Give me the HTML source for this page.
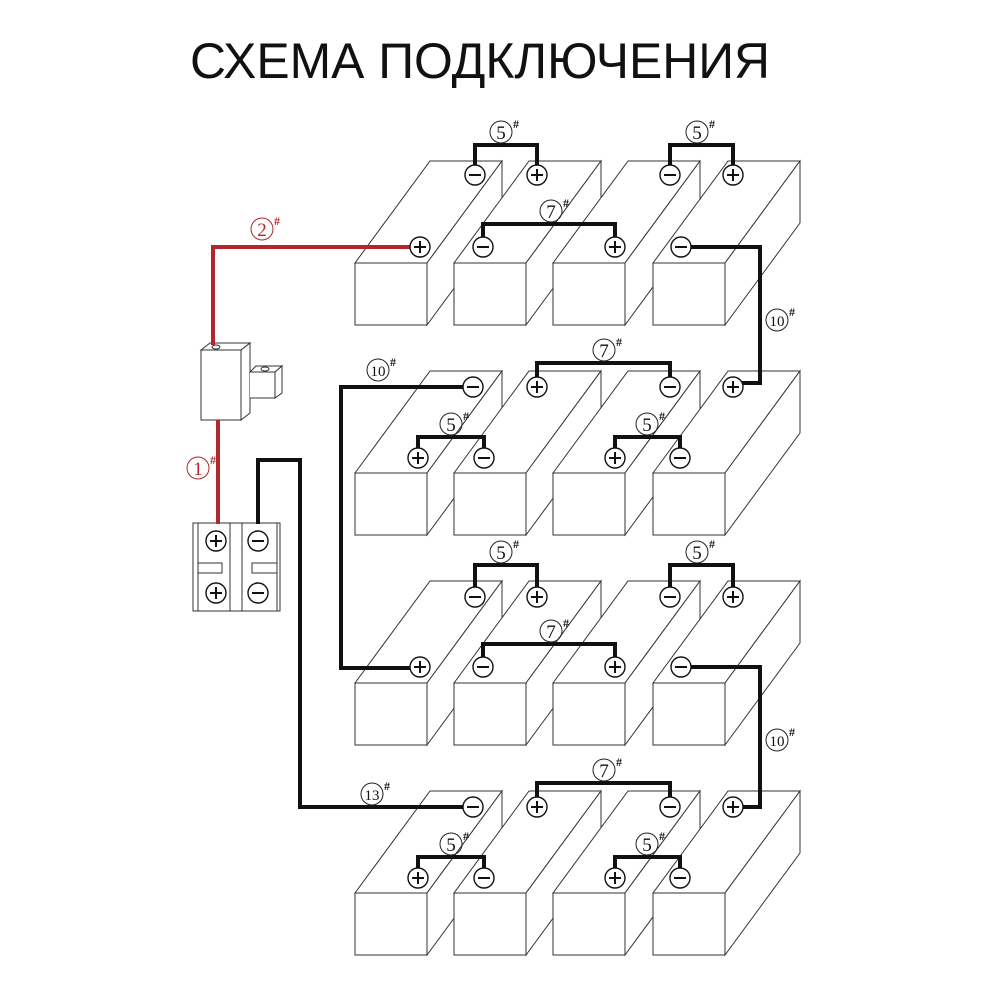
<!DOCTYPE html>
<html><head><meta charset="utf-8"><style>
html,body{margin:0;padding:0;background:#fff;}
svg{display:block;}
text{font-family:"Liberation Serif",serif;}
</style></head><body>
<svg width="1000" height="1000" viewBox="0 0 1000 1000" xmlns="http://www.w3.org/2000/svg">
<defs>
<g id="bat" fill="#fff" stroke="#333" stroke-width="1">
<polygon points="0,0 75,-102 147,-102 72,0"/>
<polygon points="72,0 147,-102 147,-40 72,62"/>
<rect x="0" y="0" width="72" height="62"/>
</g>
<g id="tp"><circle r="10" fill="#fff" stroke="#111" stroke-width="1.4"/><path d="M-6 0H6M0 -6V6" stroke="#111" stroke-width="2"/></g>
<g id="tm"><circle r="10" fill="#fff" stroke="#111" stroke-width="1.4"/><path d="M-6 0H6" stroke="#111" stroke-width="2"/></g>
</defs>

<text x="480" y="78" style="font-family:'Liberation Sans',sans-serif" font-size="50" text-anchor="middle" textLength="580" lengthAdjust="spacingAndGlyphs" fill="#111">СХЕМА ПОДКЛЮЧЕНИЯ</text>

<use href="#bat" x="355" y="263"/><use href="#bat" x="454" y="263"/><use href="#bat" x="553" y="263"/><use href="#bat" x="653" y="263"/>
<use href="#bat" x="355" y="473"/><use href="#bat" x="454" y="473"/><use href="#bat" x="553" y="473"/><use href="#bat" x="653" y="473"/>
<use href="#bat" x="355" y="683"/><use href="#bat" x="454" y="683"/><use href="#bat" x="553" y="683"/><use href="#bat" x="653" y="683"/>
<use href="#bat" x="355" y="893"/><use href="#bat" x="454" y="893"/><use href="#bat" x="553" y="893"/><use href="#bat" x="653" y="893"/>

<!-- fuse -->
<g fill="#fff" stroke="#333" stroke-width="1">
<polygon points="201,350 210,343 250,343 241,350"/>
<polygon points="241,350 250,343 250,413 241,420"/>
<rect x="201" y="350" width="40" height="70"/>
<polygon points="250,372 256,366 282,366 275,372"/>
<polygon points="275,372 282,366 282,393 275,398"/>
<rect x="250" y="372" width="25" height="26" stroke="none"/>
<path d="M250 372H275V398H250" fill="none"/>
<ellipse cx="216" cy="347" rx="4" ry="2"/>
<ellipse cx="265" cy="369" rx="4" ry="2"/>
</g>

<g fill="none" stroke="#333" stroke-width="1">
<rect x="193" y="523" width="87" height="88" fill="#fff"/>
<path d="M198 523V611M230 523V611M242 523V611M277 523V611"/>
<path d="M198 563H222V573H198M277 563H252V573H277"/>
</g>
<use href="#tp" x="216" y="541"/><use href="#tp" x="216" y="593"/>
<use href="#tm" x="258" y="541"/><use href="#tm" x="258" y="593"/>

<g fill="none" stroke="#b3262b" stroke-width="4">
<path d="M411 247H213V345"/>
<path d="M218 420V524"/>
</g>

<g fill="none" stroke="#111" stroke-width="4">
<path d="M475 167V145H537V167"/>
<path d="M670 167V145H733V167"/>
<path d="M483 239V224H615V239"/>
<path d="M690 247H760V383H742"/>
<path d="M537 379V363H670V379"/>
<path d="M418 450V437H484V450"/>
<path d="M615 450V437H680V450"/>
<path d="M464 387H341V668H411"/>
<path d="M475 587V565H537V587"/>
<path d="M670 587V565H733V587"/>
<path d="M483 659V644H615V659"/>
<path d="M690 667H760V807H742"/>
<path d="M537 799V783H670V799"/>
<path d="M418 870V857H484V870"/>
<path d="M615 870V857H680V870"/>
<path d="M464 807H300V460H258V524"/>
</g>

<use href="#tp" x="420" y="247"/><use href="#tm" x="475" y="175"/><use href="#tp" x="537" y="175"/><use href="#tm" x="483" y="247"/><use href="#tp" x="615" y="247"/><use href="#tm" x="670" y="175"/><use href="#tp" x="733" y="175"/><use href="#tm" x="681" y="247"/>
<use href="#tm" x="473" y="387"/><use href="#tp" x="537" y="387"/><use href="#tm" x="670" y="387"/><use href="#tp" x="733" y="387"/><use href="#tp" x="418" y="458"/><use href="#tm" x="484" y="458"/><use href="#tp" x="615" y="458"/><use href="#tm" x="680" y="458"/>
<use href="#tp" x="420" y="667"/><use href="#tm" x="475" y="597"/><use href="#tp" x="537" y="597"/><use href="#tm" x="483" y="667"/><use href="#tp" x="615" y="667"/><use href="#tm" x="670" y="597"/><use href="#tp" x="733" y="597"/><use href="#tm" x="681" y="667"/>
<use href="#tm" x="473" y="807"/><use href="#tp" x="537" y="807"/><use href="#tm" x="670" y="807"/><use href="#tp" x="733" y="807"/><use href="#tp" x="418" y="878"/><use href="#tm" x="484" y="878"/><use href="#tp" x="615" y="878"/><use href="#tm" x="680" y="878"/>

<g fill="none" stroke="#222" stroke-width="1">
<circle cx="501" cy="132" r="11"/><circle cx="697" cy="132" r="11"/><circle cx="551" cy="211" r="11"/><circle cx="777" cy="320" r="11"/>
<circle cx="604" cy="350" r="11"/><circle cx="378" cy="370" r="11"/><circle cx="451" cy="424" r="11"/><circle cx="647" cy="424" r="11"/>
<circle cx="501" cy="552" r="11"/><circle cx="697" cy="552" r="11"/><circle cx="551" cy="631" r="11"/><circle cx="777" cy="740" r="11"/>
<circle cx="604" cy="770" r="11"/><circle cx="372" cy="794" r="11"/><circle cx="451" cy="844" r="11"/><circle cx="647" cy="844" r="11"/>
</g>
<g fill="none" stroke="#b3262b" stroke-width="1"><circle cx="262" cy="229" r="11"/><circle cx="198" cy="468" r="11"/></g>
<g font-size="19" fill="#111" text-anchor="middle">
<text x="501" y="139">5</text><text x="697" y="139">5</text><text x="551" y="218">7</text><text x="777" y="326" font-size="15">10</text>
<text x="604" y="357">7</text><text x="378" y="376" font-size="15">10</text><text x="451" y="431">5</text><text x="647" y="431">5</text>
<text x="501" y="559">5</text><text x="697" y="559">5</text><text x="551" y="638">7</text><text x="777" y="746" font-size="15">10</text>
<text x="604" y="777">7</text><text x="372" y="800" font-size="15">13</text><text x="451" y="851">5</text><text x="647" y="851">5</text>
</g>
<g font-size="12" font-weight="bold" fill="#111">
<text x="513" y="128">#</text><text x="709" y="128">#</text><text x="563" y="207">#</text><text x="789" y="316">#</text>
<text x="616" y="346">#</text><text x="390" y="366">#</text><text x="463" y="420">#</text><text x="659" y="420">#</text>
<text x="513" y="548">#</text><text x="709" y="548">#</text><text x="563" y="627">#</text><text x="789" y="736">#</text>
<text x="616" y="766">#</text><text x="384" y="790">#</text><text x="463" y="840">#</text><text x="659" y="840">#</text>
</g>
<g fill="#b3262b">
<text x="262" y="236" font-size="19" text-anchor="middle">2</text><text x="274" y="225" font-size="12" font-weight="bold">#</text>
<text x="198" y="475" font-size="19" text-anchor="middle">1</text><text x="210" y="464" font-size="12" font-weight="bold">#</text>
</g>
</svg>
</body></html>
